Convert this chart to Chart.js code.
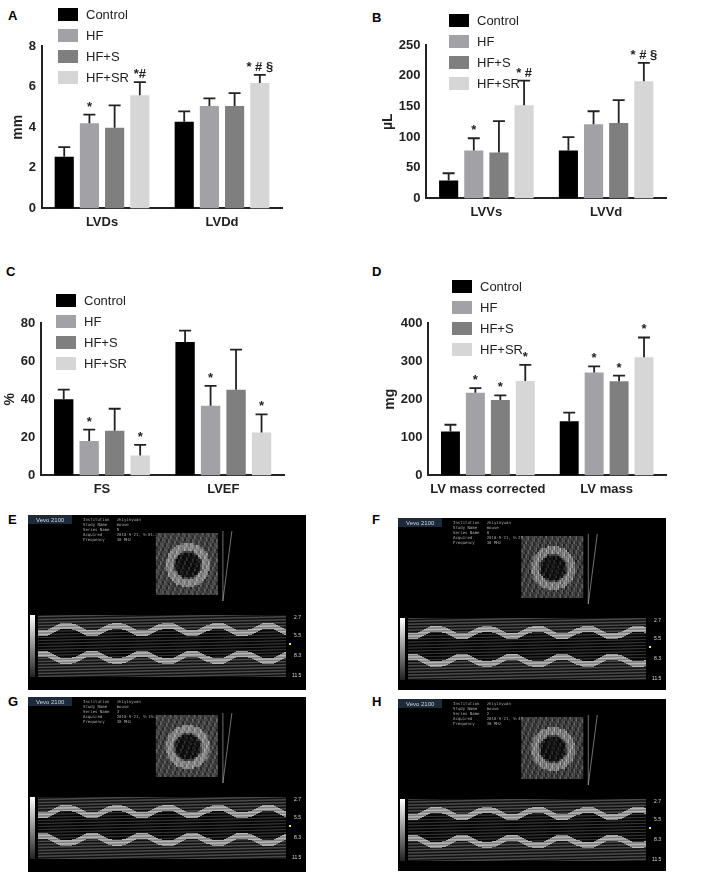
<!DOCTYPE html>
<html>
<head>
<meta charset="utf-8">
<script src="https://cdn.jsdelivr.net/npm/chart.js@4"></script>
<style>
  body { margin: 0; background: #fff; font-family: Arial, "Liberation Sans", sans-serif; }
  #page { position: relative; width: 708px; height: 877px; }
  .abs { position: absolute; }
  .letter { font-weight: bold; font-size: 13px; }
  .legend div { height: 21px; line-height: 14px; font-size: 13px; color: #222; }
  .legend span { display: inline-block; width: 20px; height: 13px; margin-right: 8px; vertical-align: top; }
</style>
</head>
<body>
<div id="page">
  <div class="abs letter" style="left:8px;top:8px">A</div>
  <div class="abs letter" style="left:372px;top:10px">B</div>
  <div class="abs letter" style="left:6px;top:264px">C</div>
  <div class="abs letter" style="left:372px;top:264px">D</div>
  <div class="abs letter" style="left:8px;top:512px">E</div>
  <div class="abs letter" style="left:372px;top:512px">F</div>
  <div class="abs letter" style="left:8px;top:694px">G</div>
  <div class="abs letter" style="left:372px;top:694px">H</div>

  <canvas id="cA" class="abs" style="left:0;top:36px"></canvas>
  <canvas id="cB" class="abs" style="left:374px;top:35px"></canvas>
  <canvas id="cC" class="abs" style="left:0;top:313px"></canvas>
  <canvas id="cD" class="abs" style="left:354px;top:313px"></canvas>

  <div class="abs legend" id="lA" style="left:58px;top:8px"></div>
  <div class="abs legend" id="lB" style="left:449px;top:14px"></div>
  <div class="abs legend" id="lC" style="left:56px;top:294px"></div>
  <div class="abs legend" id="lD" style="left:452px;top:280px"></div>

  <canvas id="uE" class="abs" width="278" height="175" style="left:28px;top:515px"></canvas>
  <canvas id="uF" class="abs" width="268" height="172" style="left:398px;top:518px"></canvas>
  <canvas id="uG" class="abs" width="278" height="175" style="left:28px;top:697px"></canvas>
  <canvas id="uH" class="abs" width="268" height="172" style="left:398px;top:699px"></canvas>
</div>
<script>
// grupos y colores
const groups = ['Control', 'HF', 'HF+S', 'HF+SR'];
const colors = ['#000000', '#a2a2a6', '#7f7f7f', '#d6d6d6'];

// Panel A (mm)
const catsA = ['LVDs', 'LVDd'];
const meanA = [[2.55, 4.27], [4.2, 5.05], [3.97, 5.05], [5.57, 6.18]];
const errA = [[3.02, 4.78], [4.62, 5.42], [5.08, 5.68], [6.22, 6.58]];
const sigA = [['', ''], ['*', ''], ['', ''], ['*#', '* # §']];

// Panel B (µL)
const catsB = ['LVVs', 'LVVd'];
const meanB = [[29, 78], [78, 121], [75, 123], [152, 191]];
const errB = [[41, 100], [98, 142], [126, 160], [192, 221]];
const sigB = [['', ''], ['*', ''], ['', ''], ['* #', '* # §']];

// Panel C (%)
const catsC = ['FS', 'LVEF'];
const meanC = [[40, 70], [18, 36.5], [23.5, 45], [10.5, 22.5]];
const errC = [[45, 76], [24, 47], [35, 66], [16, 32]];
const sigC = [['', ''], ['*', '*'], ['', ''], ['*', '*']];

// Panel D (mg)
const catsD = ['LV mass corrected', 'LV mass'];
const meanD = [[115, 142], [217, 270], [198, 247], [248, 310]];
const errD = [[133, 165], [229, 286], [210, 262], [290, 362]];
const sigD = [['', ''], ['*', '*'], ['*', '*'], ['*', '*']];

// barras de error y asteriscos
const errorBars = {
  id: 'errorBars',
  afterDatasetsDraw(chart) {
    const c = chart.ctx;
    const y = chart.scales.y;
    const opt = chart.options.plugins.errorBars;
    chart.data.datasets.forEach((ds, i) => {
      chart.getDatasetMeta(i).data.forEach((bar, j) => {
        const top = y.getPixelForValue(opt.err[i][j]);
        c.save();
        c.strokeStyle = '#222';
        c.lineWidth = 1.8;
        c.beginPath();
        c.moveTo(bar.x, bar.y);
        c.lineTo(bar.x, top);
        c.moveTo(bar.x - 6, top);
        c.lineTo(bar.x + 6, top);
        c.stroke();
        c.fillStyle = '#222';
        c.font = 'bold 13px Arial';
        c.textAlign = 'center';
        c.fillText(opt.sig[i][j], bar.x, top - 4);
        c.restore();
      });
    });
  }
};

function makeChart(id, legId, w, h, cats, mean, err, sig, max, step, title, padL) {
  const cv = document.getElementById(id);
  cv.width = w; cv.height = h;
  cv.style.width = w + 'px'; cv.style.height = h + 'px';
  document.getElementById(legId).innerHTML = groups.map((g, i) =>
    '<div><span style="background:' + colors[i] + '"></span>' + g + '</div>').join('');
  new Chart(cv, {
    type: 'bar',
    data: {
      labels: cats,
      datasets: groups.map((g, i) => ({
        label: g, data: mean[i], backgroundColor: colors[i],
        categoryPercentage: 0.84, barPercentage: 0.76
      }))
    },
    options: {
      responsive: false, animation: false,
      layout: { padding: { left: padL, right: 8, top: 10, bottom: 0 } },
      plugins: { legend: { display: false }, tooltip: { enabled: false },
        errorBars: { err: err, sig: sig } },
      scales: {
        x: {
          grid: { display: false, drawTicks: false },
          border: { color: '#222', width: 2 },
          ticks: { color: '#222', font: { weight: 'bold', size: 13 }, padding: 6,
            maxRotation: 0, minRotation: 0, autoSkip: false }
        },
        y: {
          min: 0, max: max,
          grid: { display: false, drawTicks: true, tickLength: 4, tickColor: '#222', tickWidth: 2 },
          border: { color: '#222', width: 2 },
          ticks: { stepSize: step, color: '#222', font: { weight: 'bold', size: 13 }, padding: 2 },
          title: { display: true, text: title, color: '#222', font: { weight: 'bold', size: 14 }, padding: 0 }
        }
      }
    },
    plugins: [errorBars]
  });
}

makeChart('cA', 'lA', 290, 200, catsA, meanA, errA, sigA, 8, 2, 'mm', 10);
makeChart('cB', 'lB', 300, 191, catsB, meanB, errB, sigB, 250, 50, 'µL', 6);
makeChart('cC', 'lC', 292, 190, catsC, meanC, errC, sigC, 80, 20, '%', 2);
makeChart('cD', 'lD', 320, 190, catsD, meanD, errD, sigD, 400, 100, 'mg', 28);

// imágenes de ecocardiografía (aproximación)
function echo(id, seed, date) {
  const cv = document.getElementById(id);
  const c = cv.getContext('2d');
  const W = cv.width, H = cv.height;
  c.fillStyle = '#000'; c.fillRect(0, 0, W, H);
  c.fillStyle = '#1c2a3a'; c.fillRect(0, 0, 44, 9);
  c.fillStyle = '#cfd8e0'; c.font = '6px Arial'; c.fillText('Vevo 2100', 8, 7);
  c.fillStyle = '#aaa'; c.font = '4px monospace';
  ['Institution   zhiyinyuan', 'Study Name    mouse', 'Series Name   ' + seed, 'Acquired      ' + date, 'Frequency     30 MHz']
    .forEach((t, i) => c.fillText(t, 55, 6 + i * 5));
  // vista B-mode
  const bx = W * 0.46, by = 18, bw = 62, bh = 62;
  for (let yy = 0; yy < bh; yy += 2) for (let xx = 0; xx < bw; xx += 2) {
    const dx = xx - bw / 2, dy = yy - bh / 2, r = Math.sqrt(dx * dx + dy * dy);
    let v = 70 + 40 * Math.sin(xx * 1.7 + yy * 0.9 + seed) * Math.cos(yy * 1.3 - xx * 0.4);
    if (Math.abs(r - 18) < 4) v += 70;
    if (r < 13) v -= 50;
    v = Math.max(10, Math.min(230, v));
    c.fillStyle = 'rgb(' + v + ',' + v + ',' + v + ')';
    c.fillRect(bx + xx, by + yy, 2, 2);
  }
  c.strokeStyle = '#bbb'; c.lineWidth = 0.6;
  c.beginPath(); c.moveTo(bx + bw + 5, by - 2); c.lineTo(bx + bw + 5, by + bh + 6);
  c.moveTo(bx + bw + 5, by + bh + 6); c.lineTo(bx + bw + 14, by - 2); c.stroke();
  // M-mode
  const my = 100, mh = 62;
  const g = c.createLinearGradient(0, my, 0, my + mh);
  g.addColorStop(0, '#fff'); g.addColorStop(1, '#222');
  c.fillStyle = g; c.fillRect(2, my, 5, mh);
  for (let yy = 0; yy < mh; yy += 1) {
    for (let xx = 10; xx < W - 20; xx += 2) {
      let v = 45 + 30 * Math.sin(yy * 2.1 + xx * 0.05 + seed);
      const wall1 = 14 + 4 * Math.sin(xx / 8);
      const wall2 = 42 - 4 * Math.sin(xx / 8);
      if (Math.abs(yy - wall1) < 3 || Math.abs(yy - wall2) < 3) v += 110;
      if (yy > wall1 + 3 && yy < wall2 - 3) v -= 25;
      v = Math.max(5, Math.min(235, v));
      c.fillStyle = 'rgb(' + v + ',' + v + ',' + v + ')';
      c.fillRect(xx, my + yy, 2, 1);
    }
  }
  c.fillStyle = '#ddd'; c.font = '5px Arial';
  c.fillText('2.7', W - 12, my + 4); c.fillText('5.5', W - 12, my + 22);
  c.fillText('8.3', W - 12, my + 42); c.fillText('11.5', W - 14, my + mh);
  c.fillStyle = '#ee3'; c.fillRect(W - 17, my + 28, 2, 2);
}
echo('uE', 5, '2018-9-21, 9:01:22');
echo('uF', 8, '2018-9-21, 9:25:21');
echo('uG', 3, '2018-9-21, 9:19:22');
echo('uH', 2, '2018-9-21, 9:45:36');
</script>
</body>
</html>
